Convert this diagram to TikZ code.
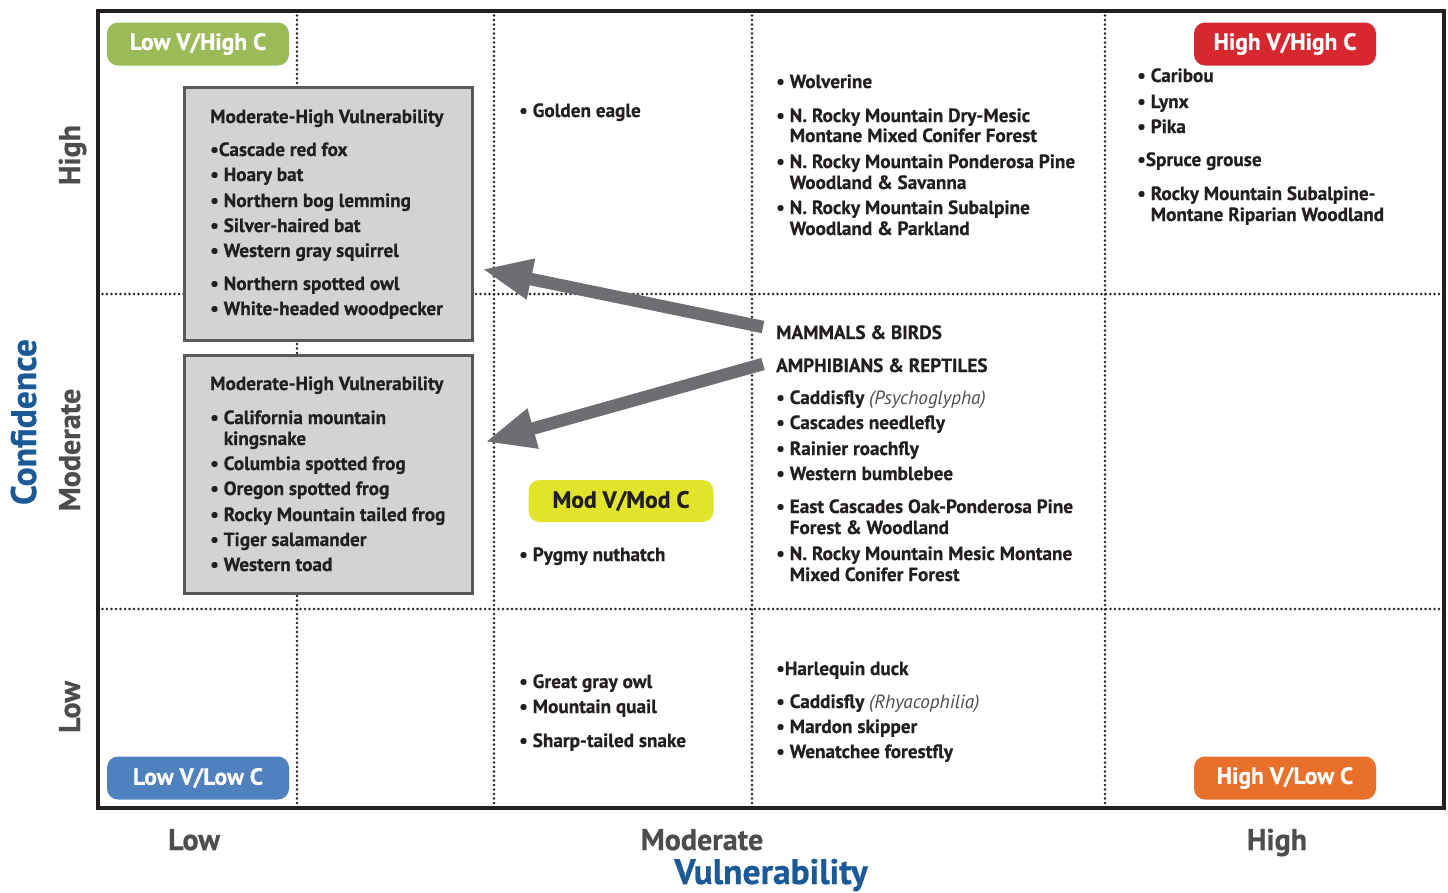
\documentclass[tikz,border=0pt]{standalone}
\usepackage{fontspec}
\setmainfont{PT Sans}[BoldFeatures={FakeBold=0.6}]
\usetikzlibrary{arrows.meta}

\definecolor{ink}{HTML}{231F20}
\definecolor{axisgray}{HTML}{4D4D4F}
\definecolor{axisblue}{HTML}{1B5A97}
\definecolor{boxfill}{HTML}{D1D3D4}
\definecolor{boxedge}{HTML}{58595B}
\definecolor{arrowgray}{HTML}{6D6E71}
\definecolor{pillgreen}{HTML}{9BBB59}
\definecolor{pillred}{HTML}{D7282F}
\definecolor{pillblue}{HTML}{4E81BD}
\definecolor{pillorange}{HTML}{E8702A}
\definecolor{pillyellow}{HTML}{E0E42B}

\newcommand\bodyfont{\fontsize{19.2bp}{21bp}\selectfont\bfseries}
\newcommand\hangspace{\phantom{• }}
\newcommand\genus[1]{{\mdseries\itshape\color{ink!80}(#1)}}

\begin{document}
\begin{tikzpicture}[x=1bp,y=-1bp,
  dotgrid/.style={ink, line width=2.7bp, dash pattern=on 0bp off 4.5bp, line cap=round},
  frame/.style={ink, line width=4.5bp},
  greybox/.style={draw=boxedge, fill=boxfill, line width=3bp, inner sep=0},
  pill/.style={rounded corners=11bp, minimum width=182bp, minimum height=43bp,
    inner sep=0, text=white, font=\fontsize{23.5bp}{26bp}\selectfont\bfseries},
  txt/.style={anchor=base west, inner sep=0, text=ink, font=\bodyfont},
  axislabel/.style={anchor=base, inner sep=0, text=axisgray, font=\fontsize{30bp}{32bp}\selectfont\bfseries},
  axistitle/.style={anchor=base, inner sep=0, text=axisblue, font=\fontsize{35.5bp}{38bp}\selectfont\bfseries},
  bigarrow/.style={arrowgray, line width=12.5bp,
    -{Triangle[length=50bp, width=38bp]}}
]
\useasboundingbox (0,0) rectangle (1448,892);

% dotted grid lines
\draw[dotgrid] (297,11) -- (297,808);
\draw[dotgrid] (494,11) -- (494,808);
\draw[dotgrid] (752,11) -- (752,808);
\draw[dotgrid] (1105,11) -- (1105,808);
\draw[dotgrid] (98,294) -- (1444,294);
\draw[dotgrid] (98,609) -- (1444,609);

% outer frame
\draw[frame] (98,11) rectangle (1444,808);

% grey summary boxes
\node[greybox, minimum width=288bp, minimum height=252bp] (mbbox) at (328,214) {};
\node[greybox, minimum width=288bp, minimum height=238bp] (arbox) at (328,474) {};

% arrows from the group headings to the boxes
\coordinate (mbtail) at (763,327);
\coordinate (mbtip) at (482,269);
\coordinate (artail) at (763,364);
\coordinate (artip) at (485,442);
\draw[bigarrow] (mbtail) -- (mbtip);
\draw[bigarrow] (artail) -- (artip);

% corner labels
\node[pill, fill=pillgreen] (lvhc) at (198,44) {Low V/High C};
\node[pill, fill=pillred] (hvhc) at (1285,44) {High V/High C};
\node[pill, fill=pillblue] (lvlc) at (198,778) {Low V/Low C};
\node[pill, fill=pillorange] (hvlc) at (1285,778) {High V/Low C};
\node[pill, fill=pillyellow, text=ink, minimum width=185bp, minimum height=42bp] (mvmc) at (621,501) {Mod V/Mod C};

% box 1: mammals and birds
\node[txt] (b1t) at (210,123) {Moderate-High Vulnerability};
\node[txt] (b1a) at (210,156) {•Cascade red fox};
\node[txt] (b1b) at (210,181) {• Hoary bat};
\node[txt] (b1c) at (210,207) {• Northern bog lemming};
\node[txt] (b1d) at (210,232) {• Silver-haired bat};
\node[txt] (b1e) at (210,257) {• Western gray squirrel};
\node[txt] (b1f) at (210,290) {• Northern spotted owl};
\node[txt] (b1g) at (210,315) {• White-headed woodpecker};

% box 2: amphibians and reptiles
\node[txt] (b2t) at (210,390) {Moderate-High Vulnerability};
\node[txt] (b2a) at (210,424) {• California mountain};
\node[txt] (b2b) at (210,445) {\hangspace kingsnake};
\node[txt] (b2c) at (210,470) {• Columbia spotted frog};
\node[txt] (b2d) at (210,495) {• Oregon spotted frog};
\node[txt] (b2e) at (210,521) {• Rocky Mountain tailed frog};
\node[txt] (b2f) at (210,546) {• Tiger salamander};
\node[txt] (b2g) at (210,571) {• Western toad};

% moderate vulnerability column
\node[txt] (m1) at (519,117) {• Golden eagle};
\node[txt] (m2) at (519,561) {• Pygmy nuthatch};
\node[txt] (m3) at (519,688) {• Great gray owl};
\node[txt] (m4) at (519,713) {• Mountain quail};
\node[txt] (m5) at (519,747) {• Sharp-tailed snake};

% moderate-high vulnerability column, high confidence
\node[txt] (h1) at (776,88) {• Wolverine};
\node[txt] (h2) at (776,122) {• N. Rocky Mountain Dry-Mesic};
\node[txt] (h3) at (776,142) {\hangspace Montane Mixed Conifer Forest};
\node[txt] (h4) at (776,168) {• N. Rocky Mountain Ponderosa Pine};
\node[txt] (h5) at (776,189) {\hangspace Woodland \& Savanna};
\node[txt] (h6) at (776,214) {• N. Rocky Mountain Subalpine};
\node[txt] (h7) at (776,235) {\hangspace Woodland \& Parkland};

% moderate-high vulnerability column, moderate confidence
\node[txt] (g1) at (776,339) {MAMMALS \& BIRDS};
\node[txt] (g2) at (776,372) {AMPHIBIANS \& REPTILES};
\node[txt] (c1) at (776,404) {• Caddisfly \genus{Psychoglypha}};
\node[txt] (c2) at (776,429) {• Cascades needlefly};
\node[txt] (c3) at (776,455) {• Rainier roachfly};
\node[txt] (c4) at (776,480) {• Western bumblebee};
\node[txt] (c5) at (776,513) {• East Cascades Oak-Ponderosa Pine};
\node[txt] (c6) at (776,534) {\hangspace Forest \& Woodland};
\node[txt] (c7) at (776,560) {• N. Rocky Mountain Mesic Montane};
\node[txt] (c8) at (776,581) {\hangspace Mixed Conifer Forest};

% moderate-high vulnerability column, low confidence
\node[txt] (l1) at (776,675) {•Harlequin duck};
\node[txt] (l2) at (776,708) {• Caddisfly \genus{Rhyacophilia}};
\node[txt] (l3) at (776,733) {• Mardon skipper};
\node[txt] (l4) at (776,758) {• Wenatchee forestfly};

% high vulnerability column
\node[txt] (r1) at (1137,82) {• Caribou};
\node[txt] (r2) at (1137,108) {• Lynx};
\node[txt] (r3) at (1137,133) {• Pika};
\node[txt] (r4) at (1137,166) {•Spruce grouse};
\node[txt] (r5) at (1137,200) {• Rocky Mountain Subalpine-};
\node[txt] (r6) at (1137,221) {\hangspace Montane Riparian Woodland};

% axes
\node[axislabel] (xlow) at (194,850) {Low};
\node[axislabel] (xmod) at (702,850) {Moderate};
\node[axislabel] (xhigh) at (1277,850) {High};
\node[axistitle] (xtitle) at (771,884) {Vulnerability};
\node[axislabel, rotate=90] (yhigh) at (80,155) {High};
\node[axislabel, rotate=90] (ymod) at (80,450) {Moderate};
\node[axislabel, rotate=90] (ylow) at (80,707) {Low};
\node[axistitle, rotate=90] (ytitle) at (36,422) {Confidence};
\end{tikzpicture}
\end{document}
